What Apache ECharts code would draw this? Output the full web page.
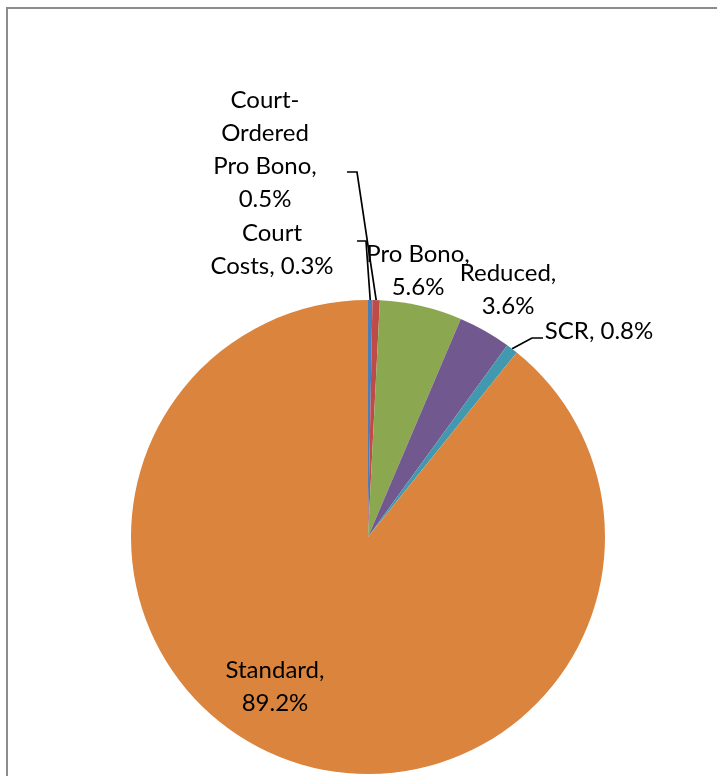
<!DOCTYPE html>
<html>
<head>
<meta charset="utf-8">
<script src="https://cdn.jsdelivr.net/npm/echarts@6/dist/echarts.min.js"></script>
<style>
  html, body { margin: 0; padding: 0; background: #fff; }
  #chart { width: 717px; height: 776px; }
</style>
</head>
<body>
<div id="chart"></div>
<script>
const categories = ['Court Costs', 'Court-Ordered Pro Bono', 'Pro Bono', 'Reduced', 'SCR', 'Standard'];
const labelTexts = ['Court\nCosts, 0.3%', 'Court-\nOrdered\nPro Bono,\n0.5%', 'Pro Bono,\n5.6%', 'Reduced,\n3.6%', 'SCR, 0.8%', 'Standard,\n89.2%'];
const values = [0.3, 0.5, 5.6, 3.6, 0.8, 89.2];
const colors = ['#4A7EBB', '#BE4B48', '#8BA850', '#71588F', '#4198AF', '#DB843D'];

// where each label sits, and the bend of its leader line (null = no line)
const labelPos = [[272, 250], [265, 150], [418, 271], [508, 290], [599, 331], [275, 687]];
const leaderBend = [
  [[366, 241], [357, 241]],
  [[357, 172], [347, 172]],
  null,
  null,
  [[532, 338], [543, 338]],
  null
];

var chart = echarts.init(document.getElementById('chart'));

const option = {
  animation: false,
  graphic: [{
    type: 'rect',
    shape: { x: 7, y: 8, width: 900, height: 900 },
    style: { fill: 'none', stroke: '#8c8c8c', lineWidth: 2 }
  }],
  series: [{
    type: 'pie',
    center: [368, 537],
    radius: 237,
    startAngle: 90,
    clockwise: true,
    avoidLabelOverlap: false,
    itemStyle: { borderWidth: 0 },
    label: {
      show: true,
      position: 'outside',
      color: '#000',
      fontFamily: 'Lato, "Open Sans", sans-serif',
      fontSize: 24,
      lineHeight: 33,
      align: 'center',
      formatter: (p) => labelTexts[p.dataIndex]
    },
    labelLine: {
      show: true,
      lineStyle: { color: '#000', width: 1.7 }
    },
    labelLayout: (params) => {
      const i = params.dataIndex;
      const out = {
        x: labelPos[i][0],
        y: labelPos[i][1],
        align: 'center',
        verticalAlign: 'middle'
      };
      if (leaderBend[i] && params.labelLinePoints) {
        out.labelLinePoints = [params.labelLinePoints[0], leaderBend[i][0], leaderBend[i][1]];
      }
      return out;
    },
    data: categories.map((name, i) => ({
      name: name,
      value: values[i],
      itemStyle: { color: colors[i] },
      labelLine: { show: leaderBend[i] !== null }
    }))
  }]
};

option && chart.setOption(option);
</script>
</body>
</html>
